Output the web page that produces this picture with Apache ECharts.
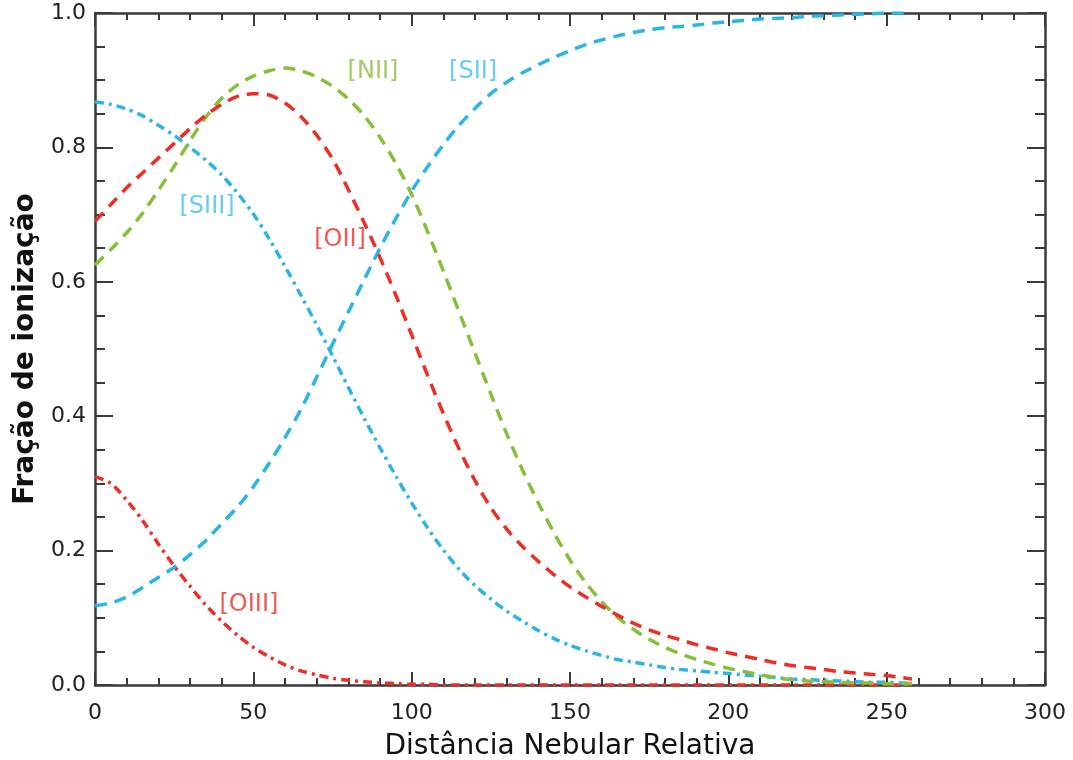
<!DOCTYPE html>
<html>
<head>
<meta charset="utf-8">
<script src="https://cdn.jsdelivr.net/npm/echarts@6/dist/echarts.min.js"></script>
<style>
  html, body { margin: 0; padding: 0; background: #ffffff; }
  #chart { width: 1073px; height: 760px; }
</style>
</head>
<body>
<div id="chart"></div>
<script>
// Relative nebular distance (sampling points shared by every curve)
const distance = [0, 5, 10, 15, 20, 25, 30, 35, 40, 45, 50, 55, 60, 65, 70, 75, 80, 85, 90, 95,
  100, 105, 110, 115, 120, 125, 130, 135, 140, 145, 150, 155, 160, 165, 170, 175, 180, 185, 190, 195,
  200, 205, 210, 215, 220, 225, 230, 235, 240, 245, 250, 255, 258];

// Ionization fractions
const oII = [0.690, 0.715, 0.740, 0.762, 0.784, 0.806, 0.828, 0.848, 0.864, 0.876, 0.880, 0.878, 0.866, 0.846, 0.818, 0.783, 0.737, 0.688, 0.636, 0.580,
  0.521, 0.461, 0.404, 0.351, 0.304, 0.264, 0.232, 0.206, 0.184, 0.164, 0.146, 0.131, 0.117, 0.104, 0.092, 0.082, 0.074, 0.067, 0.060, 0.054,
  0.048, 0.043, 0.038, 0.033, 0.029, 0.026, 0.023, 0.020, 0.018, 0.016, 0.014, 0.011, 0.009];

const nII = [0.625, 0.648, 0.673, 0.702, 0.736, 0.772, 0.810, 0.845, 0.873, 0.893, 0.906, 0.914, 0.918, 0.914, 0.905, 0.891, 0.872, 0.847, 0.815, 0.776,
  0.730, 0.675, 0.616, 0.555, 0.494, 0.433, 0.374, 0.320, 0.271, 0.226, 0.186, 0.152, 0.124, 0.101, 0.083, 0.068, 0.056, 0.046, 0.038, 0.031,
  0.025, 0.020, 0.015, 0.011, 0.008, 0.006, 0.005, 0.004, 0.003, 0.003, 0.002, 0.002, 0.002];

const sIII = [0.868, 0.864, 0.857, 0.847, 0.833, 0.818, 0.800, 0.781, 0.759, 0.732, 0.701, 0.664, 0.623, 0.580, 0.536, 0.490, 0.443, 0.397, 0.353, 0.311,
  0.271, 0.234, 0.201, 0.172, 0.148, 0.128, 0.110, 0.095, 0.081, 0.069, 0.059, 0.051, 0.044, 0.038, 0.034, 0.030, 0.026, 0.023, 0.021, 0.019,
  0.017, 0.015, 0.013, 0.011, 0.009, 0.008, 0.007, 0.006, 0.005, 0.004, 0.004, 0.003, 0.003];

const sII = [0.118, 0.122, 0.131, 0.145, 0.160, 0.175, 0.194, 0.215, 0.240, 0.265, 0.295, 0.330, 0.368, 0.410, 0.458, 0.507, 0.555, 0.603, 0.650, 0.694,
  0.735, 0.771, 0.804, 0.833, 0.858, 0.880, 0.897, 0.911, 0.923, 0.934, 0.944, 0.953, 0.960, 0.966, 0.971, 0.975, 0.978, 0.980, 0.982, 0.985,
  0.987, 0.989, 0.991, 0.992, 0.993, 0.995, 0.996, 0.997, 0.998, 0.999, 1.000, 1.000, 1.000];

const oIII = [0.310, 0.300, 0.275, 0.245, 0.210, 0.177, 0.147, 0.119, 0.095, 0.074, 0.056, 0.042, 0.030, 0.021, 0.015, 0.010, 0.007, 0.005, 0.003, 0.002,
  0.001, 0.001, 0.000, 0.000, 0.000, 0.000, 0.000, 0.000, 0.000, 0.000, 0.000, 0.000, 0.000, 0.000, 0.000, 0.000, 0.000, 0.000, 0.000, 0.000,
  0.000, 0.000, 0.000, 0.000, 0.000, 0.000, 0.000, 0.000, 0.000, 0.000, 0.000, 0.000, 0.000];

// Ion labels and where they sit (data coordinates)
const ionNames = ['[NII]', '[SII]', '[SIII]', '[OII]', '[OIII]'];
const ionLabelX = [87.8, 119.4, 35.4, 77.4, 48.6];
const ionLabelY = [0.912, 0.912, 0.711, 0.662, 0.119];

const RED = '#ee2e24';
const GREEN = '#86c03a';
const CYAN = '#2bb5e6';
const ionLabelColors = [GREEN, '#3fc0f0', '#3fc0f0', RED, RED];

const DASH = [12, 8];
const DASH_DOT = [9, 5, 3, 5];

function pairs(ys) {
  return distance.map((x, i) => [x, ys[i]]);
}

function curve(name, ys, color, dash) {
  return {
    name: name,
    type: 'line',
    data: pairs(ys),
    showSymbol: false,
    smooth: 0.3,
    silent: true,
    lineStyle: { color: color, width: 3.5, type: dash },
    z: 3
  };
}

const AXIS_COLOR = '#3a3a3a';
const FONT = 'DejaVu Sans';

const baseX = {
  type: 'value', min: 0, max: 300, interval: 50,
  axisLine: { show: true, onZero: false, lineStyle: { color: AXIS_COLOR, width: 2.5 } },
  splitLine: { show: false },
  minorTick: { show: true, splitNumber: 5, length: 7, lineStyle: { color: AXIS_COLOR, width: 2 } },
  axisTick: { show: true, inside: true, length: 13, lineStyle: { color: AXIS_COLOR, width: 2 } }
};
const baseY = {
  type: 'value', min: 0, max: 1, interval: 0.2,
  axisLine: { show: true, onZero: false, lineStyle: { color: AXIS_COLOR, width: 2.5 } },
  splitLine: { show: false },
  minorTick: { show: true, splitNumber: 4, length: 10, lineStyle: { color: AXIS_COLOR, width: 2 } },
  axisTick: { show: true, inside: true, length: 18, lineStyle: { color: AXIS_COLOR, width: 2 } }
};

const chart = echarts.init(document.getElementById('chart'), null, { renderer: 'canvas' });

chart.setOption({
  backgroundColor: '#ffffff',
  animation: false,
  grid: { left: 95, right: 28, top: 13, bottom: 75, containLabel: false, outerBoundsMode: 'none' },
  xAxis: [
    Object.assign({}, baseX, {
      position: 'bottom',
      name: 'Distância Nebular Relativa',
      nameLocation: 'middle',
      nameGap: 48,
      nameTextStyle: { fontFamily: FONT, fontSize: 28, color: '#111111' },
      axisLabel: { fontFamily: FONT, fontSize: 22, color: '#222222', margin: 17 }
    }),
    Object.assign({}, baseX, {
      position: 'top',
      axisLabel: { show: false }
    })
  ],
  yAxis: [
    Object.assign({}, baseY, {
      position: 'left',
      name: 'Fração de ionização',
      nameLocation: 'middle',
      nameGap: 51,
      nameTextStyle: { fontFamily: FONT, fontSize: 28, fontWeight: 'bold', color: '#111111' },
      axisLabel: {
        fontFamily: FONT, fontSize: 22, color: '#222222', margin: 9,
        formatter: v => v.toFixed(1)
      }
    }),
    Object.assign({}, baseY, {
      position: 'right',
      axisLabel: { show: false }
    })
  ],
  series: [
    curve('[OIII]', oIII, RED, DASH_DOT),
    curve('[SIII]', sIII, CYAN, DASH_DOT),
    curve('[SII]', sII, CYAN, DASH),
    curve('[NII]', nII, GREEN, DASH),
    curve('[OII]', oII, RED, DASH),
    {
      name: 'ions',
      type: 'scatter',
      symbolSize: 0,
      silent: true,
      z: 5,
      data: ionNames.map((n, i) => ({
        value: [ionLabelX[i], ionLabelY[i]],
        name: n,
        label: { color: ionLabelColors[i] }
      })),
      label: {
        show: true,
        position: 'inside',
        formatter: p => p.name,
        fontFamily: FONT,
        fontSize: 24
      }
    }
  ]
});
</script>
</body>
</html>
